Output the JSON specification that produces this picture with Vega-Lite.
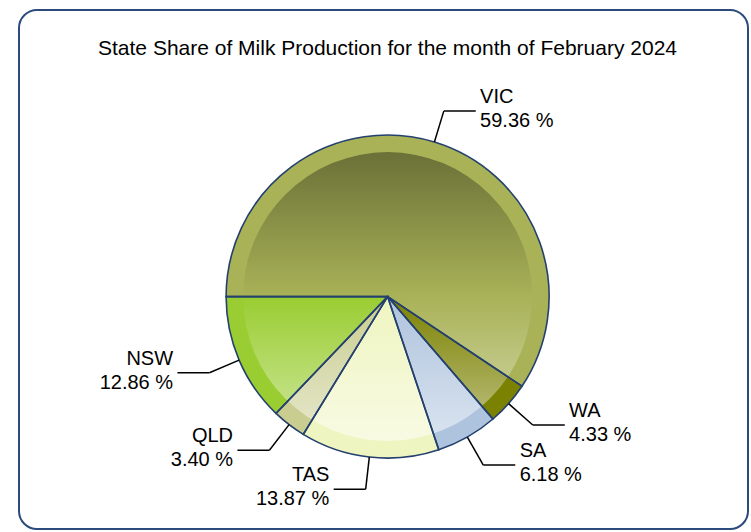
{
  "$schema": "https://vega.github.io/schema/vega-lite/v6.json",
  "width": 729,
  "height": 519,
  "autosize": "none",
  "padding": {"left": 19, "top": 10, "right": 3, "bottom": 3},
  "background": "white",
  "config": {
    "view": {"stroke": "#2c4a7c", "strokeWidth": 2, "cornerRadius": 18},
    "font": "Liberation Sans"
  },
  "title": {
    "text": "State Share of Milk Production for the month of February 2024",
    "fontSize": 21,
    "fontWeight": "normal",
    "font": "Liberation Sans",
    "color": "#000000",
    "anchor": "middle",
    "frame": "group",
    "offset": -66,
    "baseline": "alphabetic",
    "dx": 4
  },
  "data": {
    "values": [
      {"state": "VIC", "share": 59.36},
      {"state": "WA", "share": 4.33},
      {"state": "SA", "share": 6.18},
      {"state": "TAS", "share": 13.87},
      {"state": "QLD", "share": 3.40},
      {"state": "NSW", "share": 12.86}
    ]
  },
  "transform": [
    {"window": [{"op": "row_number", "as": "o"}, {"op": "sum", "field": "share", "as": "cum"}], "frame": [null, 0]},
    {"joinaggregate": [{"op": "sum", "field": "share", "as": "total"}]},
    {"calculate": "1.5*PI + 2*PI*(datum.cum - datum.share/2)/datum.total", "as": "mid"},
    {"calculate": "sin(datum.mid)", "as": "ex"},
    {"calculate": "cos(datum.mid)", "as": "ey"},
    {"calculate": "datum.ex >= 0 ? 1 : -1", "as": "side"},
    {"calculate": "1.2*datum.ex", "as": "bx"},
    {"calculate": "1.2*datum.ey", "as": "by"},
    {"calculate": "datum.bx + datum.side*0.198", "as": "lx"},
    {"calculate": "datum.bx + datum.side*0.225", "as": "tx"},
    {"calculate": "datum.state + '\\n' + format(datum.share, '.2f') + ' %'", "as": "label"}
  ],
  "layer": [
    {
      "mark": {"type": "arc", "radius": 161.5, "strokeWidth": 0},
      "encoding": {
        "x": {"datum": 0, "type": "quantitative", "scale": {"domain": [-2.2824, 2.2316], "nice": false, "zero": false}, "axis": null},
        "y": {"datum": 0, "type": "quantitative", "scale": {"domain": [-1.4390, 1.7746], "nice": false, "zero": false}, "axis": null},
        "theta": {"field": "share", "type": "quantitative", "stack": true, "scale": {"range": [4.712389, 10.995574]}},
        "order": {"field": "o", "type": "quantitative"},
        "color": {
          "field": "state",
          "type": "nominal",
          "scale": {
            "domain": ["VIC", "WA", "SA", "TAS", "QLD", "NSW"],
            "range": ["#a9b257", "#7b8100", "#aec3dd", "#eff5c0", "#c9cd90", "#9acd32"]
          },
          "legend": null
        }
      }
    },
    {
      "transform": [{"aggregate": [{"op": "sum", "field": "share", "as": "s"}]}],
      "mark": {
        "type": "arc",
        "radius": 144.5,
        "strokeWidth": 0,
        "fill": {
          "gradient": "linear",
          "x1": 0, "y1": 0, "x2": 0, "y2": 1,
          "stops": [
            {"offset": 0, "color": "rgba(0,0,0,0.37)"},
            {"offset": 0.5, "color": "rgba(0,0,0,0)"},
            {"offset": 0.5001, "color": "rgba(255,255,255,0)"},
            {"offset": 1, "color": "rgba(255,255,255,0.55)"}
          ]
        }
      },
      "encoding": {
        "x": {"datum": 0, "type": "quantitative"},
        "y": {"datum": 0, "type": "quantitative"},
        "theta": {"field": "s", "type": "quantitative", "stack": true}
      }
    },
    {
      "mark": {"type": "arc", "radius": 161.5, "fillOpacity": 0, "fill": "white", "stroke": "#24406e", "strokeWidth": 1.6},
      "encoding": {
        "x": {"datum": 0, "type": "quantitative"},
        "y": {"datum": 0, "type": "quantitative"},
        "theta": {"field": "share", "type": "quantitative", "stack": true},
        "order": {"field": "o", "type": "quantitative"},
        "detail": {"field": "state"}
      }
    },
    {
      "mark": {"type": "rule", "color": "#000000", "strokeWidth": 1.5},
      "encoding": {
        "x": {"field": "ex", "type": "quantitative"},
        "y": {"field": "ey", "type": "quantitative"},
        "x2": {"field": "bx"},
        "y2": {"field": "by"}
      }
    },
    {
      "mark": {"type": "rule", "color": "#000000", "strokeWidth": 1.5},
      "encoding": {
        "x": {"field": "bx", "type": "quantitative"},
        "y": {"field": "by", "type": "quantitative"},
        "x2": {"field": "lx"}
      }
    },
    {
      "transform": [{"filter": "datum.side > 0"}],
      "mark": {"type": "text", "align": "left", "baseline": "middle", "fontSize": 20, "lineHeight": 24, "dy": -14, "lineBreak": "\n", "color": "#000000", "font": "Liberation Sans"},
      "encoding": {
        "x": {"field": "tx", "type": "quantitative"},
        "y": {"field": "by", "type": "quantitative"},
        "text": {"field": "label"}
      }
    },
    {
      "transform": [{"filter": "datum.side < 0"}],
      "mark": {"type": "text", "align": "right", "baseline": "middle", "fontSize": 20, "lineHeight": 24, "dy": -14, "lineBreak": "\n", "color": "#000000", "font": "Liberation Sans"},
      "encoding": {
        "x": {"field": "tx", "type": "quantitative"},
        "y": {"field": "by", "type": "quantitative"},
        "text": {"field": "label"}
      }
    }
  ]
}
